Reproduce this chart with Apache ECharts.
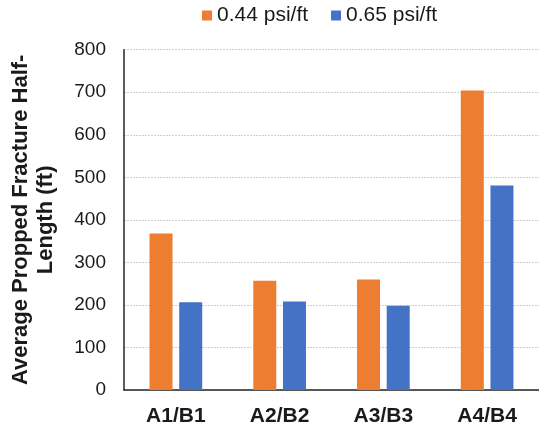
<!DOCTYPE html>
<html>
<head>
<meta charset="utf-8">
<script src="https://cdn.jsdelivr.net/npm/echarts@6/dist/echarts.min.js"></script>
<style>
  html, body { margin: 0; padding: 0; background: #fff; }
  #chart { width: 539px; height: 432px; }
</style>
</head>
<body>
<div id="chart"></div>
<script>
// Well pairs and the average propped half-length for each stress gradient
const categories = ['A1/B1', 'A2/B2', 'A3/B3', 'A4/B4'];
const seriesNames = ['0.44 psi/ft', '0.65 psi/ft'];
const lowGradient = [368, 257, 260, 704];
const highGradient = [206, 208, 198, 481];
const yTicks = { min: 0, max: 800, interval: 100 };

const FONT = '"Liberation Sans", Arial, sans-serif';
const chart = echarts.init(document.getElementById('chart'), null, { renderer: 'canvas' });

chart.setOption({
  animation: false,
  color: ['#ED7D31', '#4472C4'],
  textStyle: { fontFamily: FONT },
  legend: {
    left: 202,
    top: 5,
    padding: 0,
    itemWidth: 10,
    itemHeight: 10,
    itemGap: 23,
    icon: 'rect',
    textStyle: { fontSize: 21, color: '#1a1a1a', fontFamily: FONT },
    data: seriesNames
  },
  grid: { left: 123, right: 0, top: 49.7, bottom: 42, containLabel: false },
  xAxis: {
    type: 'category',
    data: categories,
    axisLine: { lineStyle: { color: '#262626', width: 1.5 } },
    axisTick: { show: false },
    axisLabel: { fontSize: 21, fontWeight: 'bold', color: '#1a1a1a', margin: 16, fontFamily: FONT }
  },
  yAxis: {
    type: 'value',
    min: yTicks.min,
    max: yTicks.max,
    interval: yTicks.interval,
    name: 'Average Propped Fracture Half-\nLength (ft)',
    nameLocation: 'middle',
    nameGap: 66,
    nameTextStyle: { fontSize: 22, fontWeight: 'bold', color: '#1a1a1a', lineHeight: 25, fontFamily: FONT },
    axisLine: { show: true, lineStyle: { color: '#262626', width: 1.5 } },
    axisTick: { show: false },
    axisLabel: { fontSize: 19, color: '#1a1a1a', margin: 18, fontFamily: FONT },
    splitLine: { lineStyle: { color: '#d0d0d0', type: [2, 1], width: 1 } }
  },
  series: [
    { name: seriesNames[0], type: 'bar', data: lowGradient, barWidth: 23, barGap: '29%' },
    { name: seriesNames[1], type: 'bar', data: highGradient, barWidth: 23, barGap: '29%' }
  ]
});
</script>
</body>
</html>
